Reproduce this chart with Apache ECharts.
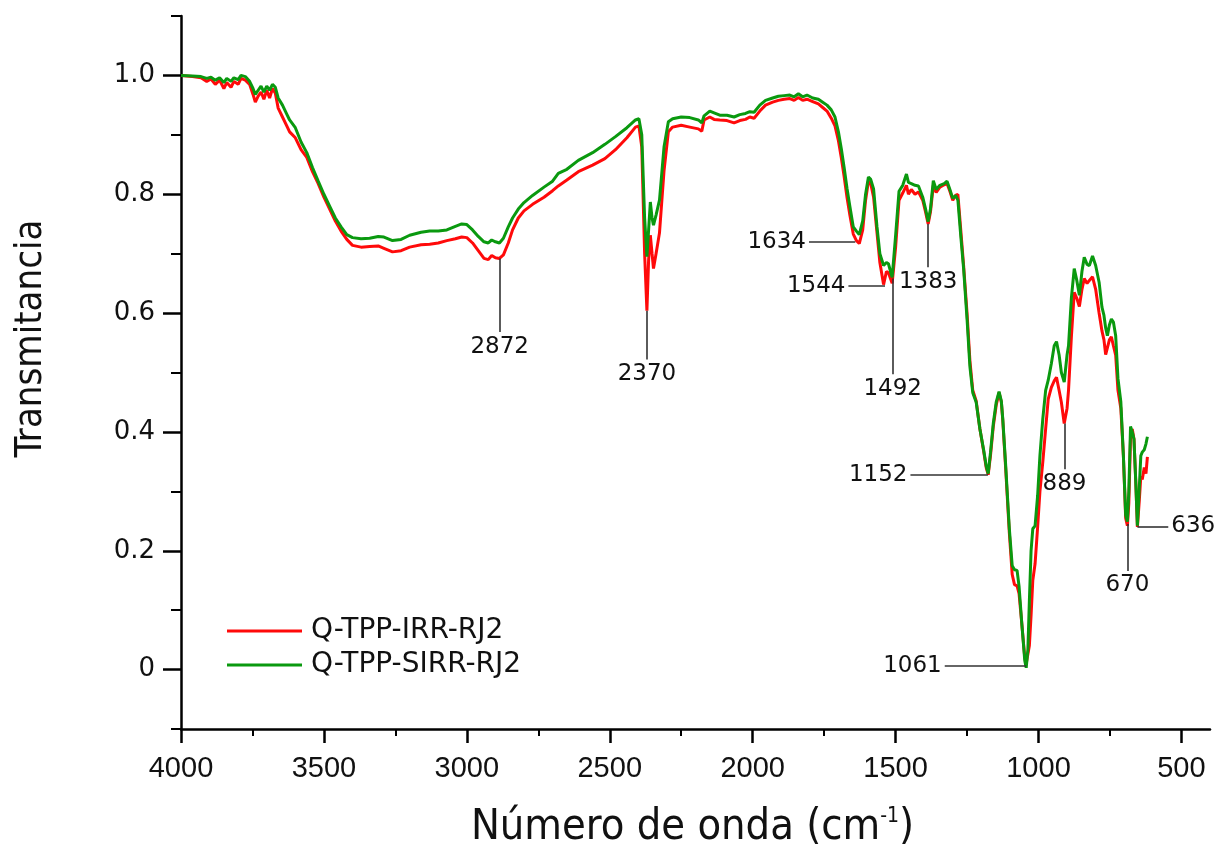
<!DOCTYPE html>
<html>
<head>
<meta charset="utf-8">
<script src="https://cdn.jsdelivr.net/npm/echarts@6/dist/echarts.min.js"></script>
<style>
  html, body { margin: 0; padding: 0; background: #fff; }
  #chart { width: 1222px; height: 846px; }
</style>
</head>
<body>
<div id="chart"></div>
<script>
// ---- data ----
const wavenumbers = [4000,3960,3930,3910,3895,3880,3865,3850,3840,3825,3815,3800,3790,3775,3760,3748,3740,3730,3720,3710,3700,3690,3680,3670,3660,3645,3630,3620,3600,3580,3560,3540,3520,3500,3480,3460,3440,3420,3400,3370,3340,3310,3290,3260,3230,3200,3160,3130,3100,3070,3040,3018,3000,2980,2960,2940,2925,2913,2900,2886,2872,2855,2840,2820,2800,2770,2730,2700,2680,2650,2610,2560,2517,2480,2440,2410,2398,2388,2378,2370,2364,2358,2352,2347,2338,2326,2310,2295,2280,2250,2220,2190,2178,2170,2150,2135,2115,2090,2065,2045,2025,2010,1995,1975,1955,1930,1910,1890,1870,1855,1840,1825,1810,1790,1770,1755,1740,1725,1712,1700,1690,1680,1670,1660,1648,1637,1627,1615,1605,1595,1587,1577,1565,1555,1542,1532,1525,1512,1500,1488,1475,1462,1455,1445,1432,1420,1405,1395,1386,1378,1368,1358,1345,1330,1320,1310,1300,1290,1282,1272,1262,1250,1240,1230,1218,1205,1192,1183,1176,1168,1158,1148,1138,1130,1125,1115,1102,1092,1084,1075,1068,1058,1048,1043,1037,1032,1026,1020,1012,1003,995,985,975,966,955,945,937,928,920,910,900,895,885,875,866,857,848,840,830,822,811,800,788,778,771,765,759,752,745,738,730,722,712,703,695,689,684,678,672,666,660,654,648,642,637,630,624,619];
const transIRR = [1.000,0.998,0.996,0.990,0.994,0.985,0.992,0.978,0.988,0.980,0.990,0.985,0.995,0.992,0.985,0.968,0.955,0.965,0.972,0.960,0.975,0.962,0.978,0.970,0.945,0.930,0.915,0.905,0.895,0.875,0.862,0.838,0.818,0.795,0.775,0.755,0.738,0.724,0.714,0.711,0.712,0.713,0.709,0.703,0.705,0.711,0.715,0.716,0.718,0.722,0.725,0.728,0.727,0.718,0.705,0.692,0.690,0.697,0.693,0.692,0.698,0.718,0.740,0.760,0.772,0.783,0.795,0.806,0.814,0.824,0.838,0.849,0.860,0.875,0.895,0.913,0.915,0.880,0.700,0.604,0.690,0.731,0.700,0.675,0.700,0.735,0.840,0.905,0.913,0.916,0.913,0.910,0.906,0.925,0.930,0.926,0.925,0.924,0.920,0.924,0.926,0.930,0.928,0.940,0.950,0.955,0.958,0.960,0.961,0.958,0.963,0.958,0.960,0.956,0.952,0.946,0.940,0.928,0.915,0.890,0.862,0.830,0.795,0.765,0.733,0.722,0.717,0.740,0.790,0.822,0.818,0.795,0.735,0.685,0.648,0.670,0.668,0.650,0.710,0.790,0.802,0.815,0.800,0.808,0.800,0.804,0.790,0.770,0.750,0.770,0.815,0.803,0.812,0.816,0.818,0.805,0.790,0.798,0.800,0.740,0.680,0.600,0.520,0.470,0.452,0.405,0.368,0.340,0.328,0.360,0.410,0.445,0.466,0.450,0.420,0.340,0.230,0.160,0.143,0.141,0.128,0.075,0.020,0.010,0.012,0.040,0.091,0.150,0.178,0.240,0.300,0.349,0.405,0.455,0.475,0.486,0.492,0.470,0.450,0.414,0.440,0.470,0.560,0.635,0.625,0.611,0.640,0.658,0.650,0.655,0.661,0.640,0.600,0.570,0.555,0.530,0.528,0.555,0.560,0.545,0.529,0.470,0.440,0.360,0.255,0.242,0.280,0.390,0.405,0.388,0.320,0.240,0.280,0.325,0.320,0.340,0.330,0.358];
const transSIRR = [1.000,0.999,0.998,0.995,0.997,0.992,0.996,0.988,0.995,0.990,0.996,0.993,1.000,0.998,0.990,0.978,0.968,0.975,0.982,0.972,0.982,0.975,0.985,0.980,0.962,0.950,0.935,0.925,0.912,0.888,0.870,0.845,0.822,0.800,0.780,0.760,0.745,0.732,0.727,0.725,0.726,0.729,0.728,0.722,0.724,0.731,0.736,0.738,0.738,0.740,0.746,0.750,0.749,0.740,0.729,0.720,0.718,0.723,0.720,0.718,0.726,0.745,0.760,0.775,0.786,0.798,0.812,0.822,0.835,0.842,0.857,0.870,0.884,0.897,0.912,0.925,0.927,0.900,0.760,0.695,0.740,0.787,0.760,0.748,0.765,0.790,0.880,0.922,0.927,0.930,0.929,0.925,0.920,0.932,0.940,0.937,0.933,0.933,0.930,0.934,0.936,0.939,0.938,0.950,0.958,0.962,0.965,0.966,0.967,0.964,0.969,0.964,0.967,0.962,0.960,0.955,0.950,0.942,0.930,0.905,0.877,0.845,0.810,0.780,0.745,0.738,0.732,0.755,0.800,0.829,0.825,0.809,0.745,0.700,0.680,0.685,0.683,0.660,0.730,0.805,0.815,0.834,0.820,0.818,0.815,0.814,0.795,0.775,0.754,0.775,0.823,0.808,0.815,0.818,0.822,0.808,0.793,0.798,0.790,0.730,0.675,0.590,0.510,0.466,0.450,0.405,0.370,0.343,0.330,0.365,0.415,0.450,0.468,0.452,0.422,0.345,0.237,0.175,0.168,0.167,0.140,0.075,0.015,0.003,0.035,0.115,0.200,0.237,0.242,0.293,0.360,0.422,0.470,0.487,0.515,0.545,0.552,0.530,0.500,0.484,0.530,0.545,0.625,0.675,0.655,0.630,0.670,0.694,0.682,0.680,0.696,0.680,0.652,0.610,0.596,0.575,0.562,0.580,0.590,0.585,0.562,0.490,0.451,0.360,0.260,0.249,0.300,0.409,0.400,0.388,0.320,0.242,0.300,0.360,0.366,0.370,0.380,0.392];

const seriesNames = ['Q-TPP-IRR-RJ2', 'Q-TPP-SIRR-RJ2'];
const xTickValues = [500, 1000, 1500, 2000, 2500, 3000, 3500, 4000];
const xMinorTickValues = [750, 1250, 1750, 2250, 2750, 3250, 3750];
const yTickValues = [0, 0.2, 0.4, 0.6, 0.8, 1.0];
const yMinorTickValues = [-0.1, 0.1, 0.3, 0.5, 0.7, 0.9, 1.1];

// peak annotations: label text, leader start [wn, T], leader end [wn, T]
const peakLabels = ['2872', '2370', '1634', '1544', '1492', '1383', '1152', '1061', '889', '670', '636'];
const leaderStart = [[2885,0.692],[2370,0.604],[1641,0.720],[1537,0.646],[1510,0.658],[1386,0.750],[1177,0.328],[1043,0.006],[909,0.414],[689,0.245],[654,0.241]];
const leaderEnd   = [[2885,0.568],[2370,0.522],[1803,0.720],[1665,0.646],[1510,0.497],[1386,0.677],[1448,0.328],[1328,0.006],[909,0.337],[689,0.166],[546,0.241]];

// ---- chart ----
const NARROW = "'Liberation Sans Narrow', 'Arial Narrow', 'DejaVu Sans Condensed', 'Liberation Sans', sans-serif";
const WIDE = "'DejaVu Sans', 'Liberation Sans', sans-serif";

const chart = echarts.init(document.getElementById('chart'), null, { renderer: 'canvas' });

const pairs = (ys) => wavenumbers.map((w, i) => [w, ys[i]]);

const markLineData = peakLabels.map((t, i) => [
  { coord: leaderStart[i], label: { formatter: t } },
  { coord: leaderEnd[i] }
]);

const option = {
  backgroundColor: '#ffffff',
  animation: false,
  grid: { left: 181, right: 12, top: 16, bottom: 117, containLabel: false, outerBoundsMode: 'none' },
  legend: {
    data: seriesNames,
    orient: 'vertical',
    left: 222,
    top: 609,
    icon: 'rect',
    itemWidth: 75,
    itemHeight: 3,
    itemGap: 0,
    textStyle: { fontFamily: WIDE, fontSize: 28, color: '#111', lineHeight: 34, padding: [0, 0, 0, 4] }
  },
  xAxis: [
    {
      type: 'value', min: 400, max: 4000, inverse: true,
      position: 'bottom',
      axisLine: { show: true, onZero: false, lineStyle: { color: '#000', width: 2.5 } },
      axisTick: { show: true, inside: false, length: 14, lineStyle: { color: '#000', width: 2.5 }, customValues: xTickValues },
      axisLabel: { customValues: xTickValues, margin: 25, fontFamily: 'Liberation Sans, Arial, sans-serif', fontSize: 29, color: '#111',
                   formatter: (v) => (xTickValues.indexOf(v) >= 0 ? String(v) : '') },
      minorTick: { show: false },
      splitLine: { show: false },
      name: 'Número de onda (cm{sup|-1})',
      nameLocation: 'middle',
      nameGap: 77,
      nameTextStyle: {
        fontFamily: NARROW, fontSize: 43, color: '#111', padding: [0, 6, 0, 0],
        rich: { sup: { fontFamily: NARROW, fontSize: 21, color: '#111', verticalAlign: 'top', padding: [0, 0, 18, 0] } }
      }
    },
    {
      type: 'value', min: 400, max: 4000, inverse: true,
      position: 'bottom',
      axisLine: { show: false, onZero: false },
      axisTick: { show: true, inside: false, length: 7, lineStyle: { color: '#000', width: 2 }, customValues: xMinorTickValues },
      axisLabel: { show: false },
      splitLine: { show: false }
    }
  ],
  yAxis: [
    {
      type: 'value', min: -0.1, max: 1.1,
      position: 'left',
      axisLine: { show: true, onZero: false, lineStyle: { color: '#000', width: 2.5 } },
      axisTick: { show: true, inside: false, length: 18, lineStyle: { color: '#000', width: 2.5 }, customValues: yTickValues },
      axisLabel: { customValues: yTickValues, margin: 26, fontFamily: WIDE, fontSize: 26, color: '#111',
                   formatter: (v) => {
                     const r = Math.round(v * 10) / 10;
                     if (yTickValues.indexOf(r) < 0 || Math.abs(r - v) > 1e-6) return '';
                     return r === 0 ? '0' : r.toFixed(1);
                   } },
      splitLine: { show: false },
      name: 'Transmitancia',
      nameLocation: 'middle',
      nameGap: 131,
      nameTextStyle: { fontFamily: NARROW, fontSize: 38, color: '#111', padding: [0, 0, 0, 68] }
    },
    {
      type: 'value', min: -0.1, max: 1.1,
      position: 'left',
      axisLine: { show: false, onZero: false },
      axisTick: { show: true, inside: false, length: 10, lineStyle: { color: '#000', width: 2 }, customValues: yMinorTickValues },
      axisLabel: { show: false },
      splitLine: { show: false }
    }
  ],
  series: [
    {
      name: seriesNames[0], type: 'line', xAxisIndex: 0, yAxisIndex: 0,
      data: pairs(transIRR), showSymbol: false, symbol: 'none',
      lineStyle: { color: '#ff0a0a', width: 3 }, itemStyle: { color: '#ff0a0a' },
      z: 2
    },
    {
      name: seriesNames[1], type: 'line', xAxisIndex: 0, yAxisIndex: 0,
      data: pairs(transSIRR), showSymbol: false, symbol: 'none',
      lineStyle: { color: '#0a990f', width: 3 }, itemStyle: { color: '#0a990f' },
      z: 3,
      markLine: {
        silent: true,
        symbol: ['none', 'none'],
        animation: false,
        lineStyle: { color: '#333', width: 1.6, type: 'solid' },
        label: { show: true, position: 'end', distance: 3, fontFamily: WIDE, fontSize: 23, color: '#111' },
        emphasis: { disabled: true },
        data: markLineData
      }
    }
  ]
};

chart.setOption(option);
</script>
</body>
</html>
